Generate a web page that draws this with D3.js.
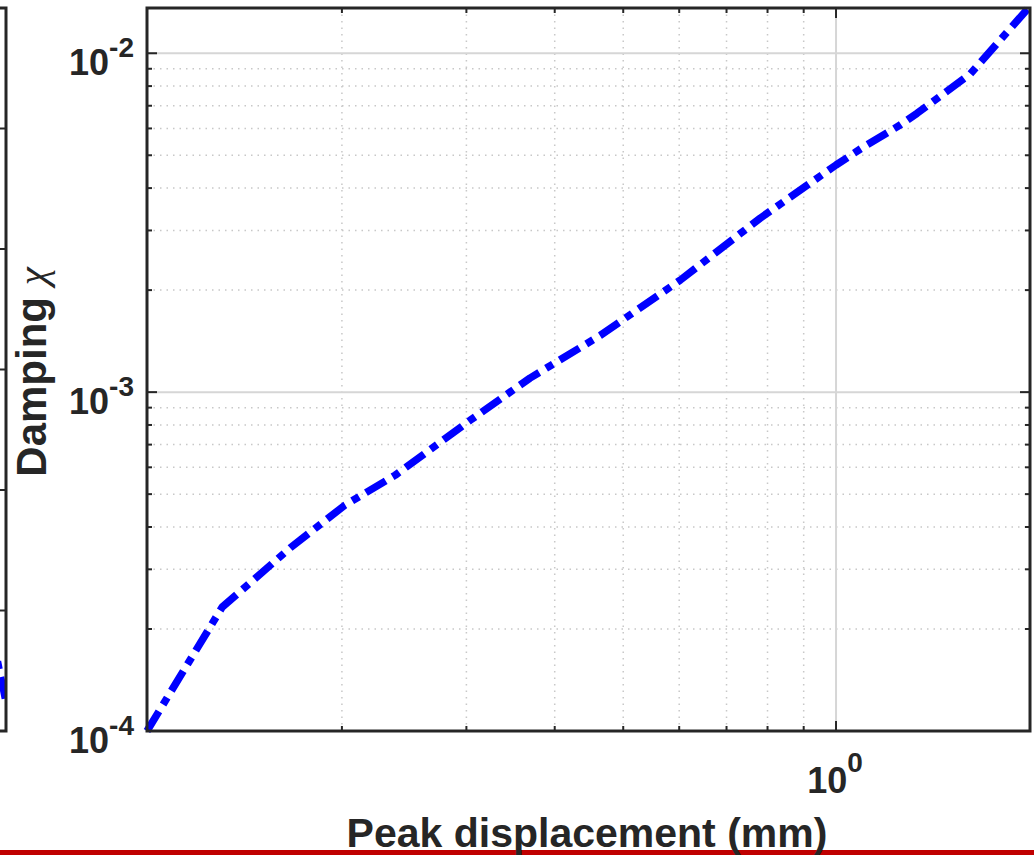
<!DOCTYPE html>
<html>
<head>
<meta charset="utf-8">
<script src="https://cdn.jsdelivr.net/npm/d3@7"></script>
<style>
  html, body { margin: 0; padding: 0; background: #fff; }
  svg { display: block; }
</style>
</head>
<body>
<svg id="chart" width="1034" height="855"></svg>
<script>
// ---- data ----
const peakDisplacement = [0.106, 0.1354, 0.169, 0.202, 0.238, 0.304, 0.369, 0.464, 0.602, 0.781, 1.0, 1.092, 1.232, 1.302, 1.547, 1.881];
const damping = [1.0e-4, 2.32e-4, 3.47e-4, 4.64e-4, 5.69e-4, 8.27e-4, 1.10e-3, 1.47e-3, 2.14e-3, 3.26e-3, 4.68e-3, 5.28e-3, 6.14e-3, 6.65e-3, 8.67e-3, 1.377e-2];

const xMajorTicks = [1];
const xMajorTickExponents = ["0"];
const xMinorTicks = [0.2, 0.3, 0.4, 0.5, 0.6, 0.7, 0.8, 0.9];
const yMajorTicks = [1e-4, 1e-3, 1e-2];
const yMajorTickExponents = ["-4", "-3", "-2"];
const yMinorTicks = [2e-4, 3e-4, 4e-4, 5e-4, 6e-4, 7e-4, 8e-4, 9e-4, 2e-3, 3e-3, 4e-3, 5e-3, 6e-3, 7e-3, 8e-3, 9e-3];

// partial neighbouring panel on the left edge
const leftPanelTicks = [1, 2, 3, 4, 5];
const leftPanelX = [0.985, 1.0];
const leftPanelY = [0.79, 0.23];

const xLabel = "Peak displacement (mm)";
const yLabelText = "Damping ";
const yLabelSymbol = "\u03C7";

// ---- layout ----
const L = 147, R = 1030, T = 8, B = 731;
const axisColor = "#262626";
const svg = d3.select("#chart");

const x = d3.scaleLog().domain([0.106, 1.881]).range([L, R]);
const y = d3.scaleLog().domain([1e-4, 1.36e-2]).range([B, T]);

// red bar at bottom
svg.append("rect").attr("x", 0).attr("y", 850).attr("width", 1034).attr("height", 5).attr("fill", "#c00000");

// ---- left partial panel ----
const lx = d3.scaleLinear().domain([0, 1]).range([-880, 6]);
const ly = d3.scaleLinear().domain([0, 6]).range([B, T]);
svg.append("defs").append("clipPath").attr("id", "leftClip")
  .append("rect").attr("x", 0).attr("y", T).attr("width", 6).attr("height", B - T);
svg.append("path")
  .datum(leftPanelX.map((d, i) => [d, leftPanelY[i]]))
  .attr("clip-path", "url(#leftClip)")
  .attr("fill", "none").attr("stroke", "#0000ff").attr("stroke-width", 7)
  .attr("stroke-dasharray", "22,8,8,8").attr("stroke-dashoffset", 4)
  .attr("d", d3.line().x(d => lx(d[0])).y(d => ly(d[1])));
svg.append("g").selectAll("line").data(leftPanelTicks).join("line")
  .attr("x1", 0).attr("x2", 6).attr("y1", d => ly(d)).attr("y2", d => ly(d))
  .attr("stroke", axisColor).attr("stroke-width", 2);
svg.append("path").attr("d", `M0,${T}H${lx(1)}V${B}H0`)
  .attr("fill", "none").attr("stroke", axisColor).attr("stroke-width", 3);

// ---- grid ----
const grid = svg.append("g");
grid.selectAll(".xminor").data(xMinorTicks).join("line")
  .attr("x1", d => x(d)).attr("x2", d => x(d)).attr("y1", T).attr("y2", B)
  .attr("stroke", "#c8c8c8").attr("stroke-width", 1.5).attr("stroke-dasharray", "1.5,5");
grid.selectAll(".yminor").data(yMinorTicks).join("line")
  .attr("x1", L).attr("x2", R).attr("y1", d => y(d)).attr("y2", d => y(d))
  .attr("stroke", "#c8c8c8").attr("stroke-width", 1.5).attr("stroke-dasharray", "1.5,5");
grid.selectAll(".xmajor").data(xMajorTicks).join("line")
  .attr("x1", d => x(d)).attr("x2", d => x(d)).attr("y1", T).attr("y2", B)
  .attr("stroke", "#d6d6d6").attr("stroke-width", 2);
grid.selectAll(".ymajor").data(yMajorTicks.filter(d => d > 1e-4)).join("line")
  .attr("x1", L).attr("x2", R).attr("y1", d => y(d)).attr("y2", d => y(d))
  .attr("stroke", "#d6d6d6").attr("stroke-width", 2);

// ---- data line ----
svg.append("defs").append("clipPath").attr("id", "plotClip")
  .append("rect").attr("x", L - 6).attr("y", T - 6).attr("width", R - L + 12).attr("height", B - T + 12);
svg.append("path")
  .datum(peakDisplacement.map((d, i) => [d, damping[i]]))
  .attr("clip-path", "url(#plotClip)")
  .attr("fill", "none").attr("stroke", "#0000ff").attr("stroke-width", 7.5)
  .attr("stroke-dasharray", "23,8,8,8")
  .attr("stroke-linejoin", "round")
  .attr("d", d3.line().x(d => x(d[0])).y(d => y(d[1])));

// ---- axes box & ticks ----
const ax = svg.append("g").attr("stroke", axisColor);
function tickSet(vals, len, w) {
  vals.forEach(v => {
    const px = x(v);
    ax.append("line").attr("x1", px).attr("x2", px).attr("y1", B).attr("y2", B - len).attr("stroke-width", w);
    ax.append("line").attr("x1", px).attr("x2", px).attr("y1", T).attr("y2", T + len).attr("stroke-width", w);
  });
}
function tickSetY(vals, len, w) {
  vals.forEach(v => {
    const py = y(v);
    ax.append("line").attr("x1", L).attr("x2", L + len).attr("y1", py).attr("y2", py).attr("stroke-width", w);
    ax.append("line").attr("x1", R).attr("x2", R - len).attr("y1", py).attr("y2", py).attr("stroke-width", w);
  });
}
tickSet(xMinorTicks, 5, 2);
tickSet(xMajorTicks, 10, 2);
tickSetY(yMinorTicks, 5, 2);
tickSetY(yMajorTicks, 10, 2);
ax.append("rect").attr("x", L).attr("y", T).attr("width", R - L).attr("height", B - T)
  .attr("fill", "none").attr("stroke-width", 3);

// ---- tick labels ----
const font = "'Liberation Sans', Arial, Helvetica, sans-serif";
const yl = svg.append("g").attr("font-family", font).attr("font-weight", "bold").attr("fill", axisColor);
yMajorTicks.forEach((v, i) => {
  const t = yl.append("text").attr("x", 134).attr("y", y(v) + 22).attr("text-anchor", "end");
  t.append("tspan").attr("font-size", 36).text("10");
  t.append("tspan").attr("font-size", 28).attr("dy", -18).text(yMajorTickExponents[i]);
});
xMajorTicks.forEach((v, i) => {
  const t = yl.append("text").attr("x", x(v) - 1).attr("y", B + 62).attr("text-anchor", "middle");
  t.append("tspan").attr("font-size", 36).text("10");
  t.append("tspan").attr("font-size", 28).attr("dy", -21).text(xMajorTickExponents[i]);
});

// ---- axis labels ----
svg.append("text").attr("x", 587).attr("y", 847).attr("text-anchor", "middle")
  .attr("font-family", font).attr("font-weight", "bold").attr("font-size", 41).attr("fill", axisColor)
  .text(xLabel);
const yt = svg.append("text").attr("transform", "translate(46,372) rotate(-90)").attr("text-anchor", "middle")
  .attr("fill", axisColor);
yt.append("tspan").attr("font-family", font).attr("font-weight", "bold").attr("font-size", 42).text(yLabelText);
yt.append("tspan").attr("font-family", "'Liberation Serif', 'DejaVu Serif', serif").attr("font-style", "italic")
  .attr("font-size", 41).text(yLabelSymbol);
</script>
</body>
</html>
